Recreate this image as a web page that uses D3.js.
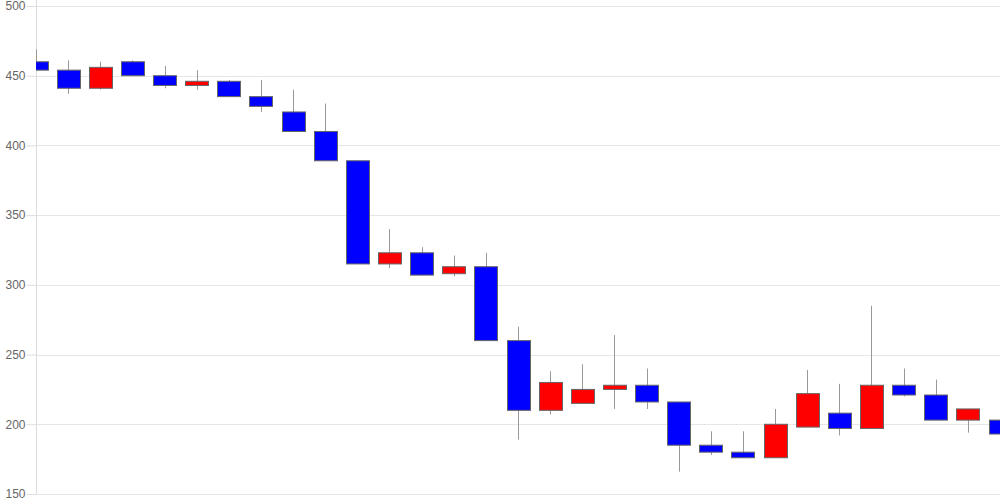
<!DOCTYPE html>
<html><head><meta charset="utf-8">
<script src="https://cdn.jsdelivr.net/npm/d3@7"></script>
<style>html,body{margin:0;padding:0;background:#fff;}</style>
</head><body>
<svg id="chart" width="1000" height="500"></svg>
<script>
const openV  = [460,454,441,460,450,443,446,435,424,410,389,315,323,308,313,260,210,215,225,228,216,185,180,176,198,208,197,228,221,203,203];
const closeV = [454,441,456,450,443,446,435,428,410,389,315,323,307,313,260,210,230,225,228,216,185,180,176,200,222,197,228,221,203,211,193];
const highV  = [469,461,460,461,457,454,447,447,440,430,389,340,327,321,323,270,238,243,264,240,216,195,195,211,239,229,285,240,232,211,211];
const lowV   = [454,437,440,450,441,440,435,424,410,389,315,312,307,306,260,189,207,215,211,211,166,178,176,176,198,192,197,220,203,194,190];
const yTicks = [150,200,250,300,350,400,450,500];

(function(){
const svg = d3.select('#chart');
const mLeft = 36, mRight = 1000, mTop = 6, mBottom = 494;
const x = d3.scaleLinear().domain([0, openV.length - 1]).range([mLeft, mRight]);
const y = d3.scaleLinear().domain([150, 500]).range([mBottom, mTop]);

svg.append('defs').append('clipPath').attr('id','clip')
  .append('rect').attr('x', mLeft).attr('y', 0).attr('width', mRight - mLeft).attr('height', 500);

// grid
svg.append('g').selectAll('line').data(yTicks).join('line')
  .attr('x1', mLeft).attr('x2', mRight)
  .attr('y1', d => Math.round(y(d)) + 0.5).attr('y2', d => Math.round(y(d)) + 0.5)
  .attr('stroke', '#e6e6e6').attr('stroke-width', 1);

// y axis
const yAxis = d3.axisLeft(y).tickValues(yTicks).tickSize(10).tickPadding(1);
const ga = svg.append('g').attr('transform', `translate(${mLeft + 0.5},0)`).call(yAxis);
ga.select('.domain').attr('stroke', '#dddddd').attr('d', `M0,0V${mBottom}`);
ga.selectAll('.tick line').attr('stroke', '#dddddd');
ga.selectAll('.tick text').attr('fill', '#666').attr('font-size', 12)
  .attr('font-family', 'Arial, "Liberation Sans", sans-serif');

const bodyW = 23;
const g = svg.append('g').attr('clip-path', 'url(#clip)');
const idx = d3.range(openV.length);

g.selectAll('line.wick').data(idx).join('line').attr('class','wick')
  .attr('x1', i => Math.round(x(i)) + 0.5).attr('x2', i => Math.round(x(i)) + 0.5)
  .attr('y1', i => y(highV[i])).attr('y2', i => y(lowV[i]))
  .attr('stroke', '#999').attr('stroke-width', 1);

g.selectAll('rect.body').data(idx).join('rect').attr('class','body')
  .attr('x', i => Math.round(x(i) - bodyW / 2) + 0.5)
  .attr('y', i => y(Math.max(openV[i], closeV[i])))
  .attr('width', bodyW)
  .attr('height', i => Math.max(1, Math.abs(y(openV[i]) - y(closeV[i]))))
  .attr('fill', i => closeV[i] >= openV[i] ? '#ff0000' : '#0000ff')
  .attr('stroke', '#666').attr('stroke-width', 1);
})();
</script>
</body></html>
